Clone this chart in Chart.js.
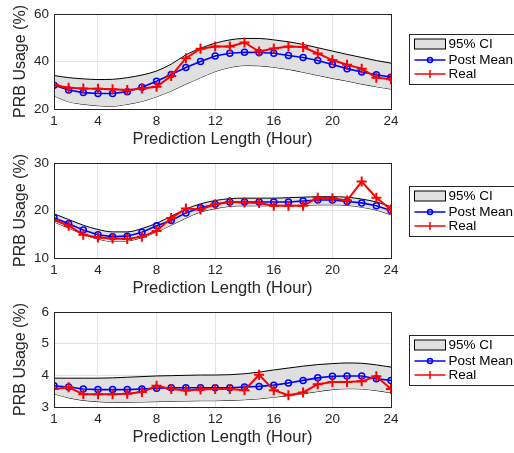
<!DOCTYPE html>
<html>
<head>
<meta charset="utf-8">
<script src="https://cdn.jsdelivr.net/npm/chart.js@4.4.1/dist/chart.umd.min.js"></script>
<style>
  html, body { margin: 0; padding: 0; background: #fff; overflow: hidden; }
  .panel { position: absolute; left: 0; width: 514px; height: 149px; overflow: hidden; }
</style>
</head>
<body>
<div class="panel" style="top:0px"><canvas id="chart1" width="560" height="149"></canvas></div>
<div class="panel" style="top:149px"><canvas id="chart2" width="560" height="149"></canvas></div>
<div class="panel" style="top:298px"><canvas id="chart3" width="560" height="149"></canvas></div>
<script>
// Prediction hours
const hours = [1,2,3,4,5,6,7,8,9,10,11,12,13,14,15,16,17,18,19,20,21,22,23,24];
const xTicks = [1, 4, 8, 12, 16, 20, 24];

// Panel 1
const mean1  = [30.0,28.0,26.9,26.5,26.5,27.3,29.2,31.7,34.5,37.5,40.0,42.3,43.5,43.9,43.8,43.5,42.5,41.7,40.4,38.7,37.0,35.6,34.4,33.4];
const real1  = [30.1,29.0,28.6,28.5,28.3,28.0,28.6,29.4,33.9,41.4,45.4,46.3,46.3,48.0,44.2,45.5,46.3,46.1,43.4,40.6,38.6,37.0,33.2,32.5];
const upper1 = [34.1,33.2,32.7,32.4,32.5,33.2,34.3,36.0,38.9,42.8,45.6,47.7,49.1,49.7,49.7,49.1,48.3,47.2,45.8,44.4,43.0,41.7,40.4,39.3];
const lower1 = [25.5,23.1,22.0,21.4,21.2,22.0,23.2,25.2,27.6,30.5,33.2,35.8,37.5,38.3,38.2,37.6,36.7,35.5,34.2,32.9,31.8,30.5,29.4,28.4];

// Panel 2
const mean2  = [18.5,17.2,15.9,14.9,14.5,14.6,15.4,16.8,17.9,19.5,20.6,21.3,21.8,21.8,21.8,21.8,21.8,22.0,22.2,22.2,21.9,21.6,21.0,20.0];
const real2  = [18.0,16.8,14.9,14.3,14.1,14.0,14.5,15.7,18.4,20.4,20.2,21.3,21.8,21.7,21.6,21.0,21.0,21.0,22.7,22.6,22.1,26.1,22.7,20.2];
const upper2 = [19.3,18.1,16.9,16.0,15.5,15.5,16.2,17.3,18.8,20.3,21.4,22.1,22.5,22.6,22.6,22.6,22.7,22.8,22.9,22.9,22.8,22.4,21.8,20.8];
const lower2 = [17.6,16.3,15.0,14.0,13.5,13.6,14.3,15.5,16.9,18.4,19.7,20.4,20.9,21.0,21.0,21.0,21.1,21.1,21.2,21.2,21.1,20.7,20.1,19.1];

// Panel 3
const mean3  = [3.67,3.63,3.57,3.55,3.55,3.55,3.57,3.59,3.61,3.61,3.61,3.61,3.61,3.63,3.65,3.69,3.76,3.84,3.92,3.97,3.98,3.98,3.89,3.84];
const real3  = [3.57,3.62,3.40,3.40,3.40,3.42,3.47,3.67,3.57,3.52,3.55,3.57,3.57,3.53,4.02,3.53,3.37,3.46,3.72,3.79,3.79,3.81,3.97,3.57];
const upper3 = [3.91,3.91,3.91,3.91,3.92,3.94,3.96,3.98,3.99,4.00,4.01,4.01,4.02,4.05,4.10,4.17,4.23,4.29,4.34,4.37,4.39,4.38,4.33,4.26];
const lower3 = [3.42,3.29,3.21,3.17,3.15,3.15,3.16,3.17,3.18,3.19,3.20,3.20,3.21,3.23,3.26,3.31,3.36,3.42,3.49,3.55,3.58,3.57,3.52,3.45];

const TEXT = '#262626';
const GRID = '#e3e3e3';
const BAND = '#e0e0e0';
const FONT = 'Liberation Sans, Arial, sans-serif';

function pts(arr) {
    return arr.map((v, i) => ({ x: hours[i], y: v }));
}

// box around plot area + MATLAB-style legend at right (runs off the figure edge)
const boxLegendPlugin = {
    id: 'boxLegend',
    afterDraw(chart) {
        const ctx = chart.ctx;
        const a = chart.chartArea;
        ctx.save();
        ctx.strokeStyle = TEXT;
        ctx.lineWidth = 1;
        ctx.strokeRect(Math.round(a.left) + 0.5, Math.round(a.top) + 0.5,
                       Math.round(a.right - a.left), Math.round(a.bottom - a.top));

        // legend box
        const shift = chart.options.plugins.boxLegend.shift || 0;
        const lx = a.right + 18.5;
        const ly = Math.round((a.top + a.bottom) / 2 - 25 + shift) + 0.5;
        ctx.fillStyle = '#fff';
        ctx.fillRect(lx, ly, 140, 50);
        ctx.strokeStyle = TEXT;
        ctx.strokeRect(lx, ly, 140, 50);

        const ix0 = lx + 5, ix1 = lx + 36, icx = (ix0 + ix1) / 2;
        const rows = [ly + 9.5, ly + 25.5, ly + 39.5];

        // 95% CI patch
        ctx.fillStyle = BAND;
        ctx.fillRect(ix0, rows[0] - 5, ix1 - ix0, 10);
        ctx.strokeStyle = '#000';
        ctx.strokeRect(ix0, rows[0] - 5, ix1 - ix0, 10);

        // Post Mean
        ctx.strokeStyle = '#0000ff';
        ctx.lineWidth = 1.5;
        ctx.beginPath();
        ctx.moveTo(ix0, rows[1]); ctx.lineTo(ix1, rows[1]);
        ctx.stroke();
        ctx.beginPath();
        ctx.arc(icx, rows[1], 2.5, 0, Math.PI * 2);
        ctx.stroke();

        // Real
        ctx.strokeStyle = '#ff0000';
        ctx.beginPath();
        ctx.moveTo(ix0, rows[2]); ctx.lineTo(ix1, rows[2]);
        ctx.moveTo(icx, rows[2] - 4); ctx.lineTo(icx, rows[2] + 4);
        ctx.stroke();

        ctx.fillStyle = '#000';
        ctx.font = '13.5px ' + FONT;
        ctx.textBaseline = 'middle';
        ctx.textAlign = 'left';
        const labels = chart.options.plugins.boxLegend.labels;
        labels.forEach((t, i) => ctx.fillText(t, ix1 + 3, rows[i] + 0.5));
        ctx.restore();
    }
};

function makeChart(id, mean, real, upper, lower, yMin, yMax, yStep, shift) {
    return new Chart(document.getElementById(id), {
        type: 'line',
        data: {
            datasets: [
                {
                    label: 'Real',
                    data: pts(real),
                    borderColor: '#ff0000',
                    borderWidth: 2,
                    pointStyle: 'cross',
                    pointRadius: 5,
                    pointBorderColor: '#ff0000',
                    pointBorderWidth: 2,
                    tension: 0,
                    order: 0
                },
                {
                    label: 'Post Mean',
                    data: pts(mean),
                    borderColor: '#0000ff',
                    borderWidth: 1.6,
                    pointStyle: 'circle',
                    pointRadius: 3,
                    pointBorderColor: '#0000ff',
                    pointBackgroundColor: 'rgba(0,0,0,0)',
                    pointBorderWidth: 1.5,
                    tension: 0,
                    order: 1
                },
                {
                    label: '95% CI',
                    data: pts(upper),
                    borderColor: '#000',
                    borderWidth: 1,
                    backgroundColor: BAND,
                    fill: { target: 3 },
                    pointRadius: 0,
                    cubicInterpolationMode: 'monotone',
                    order: 2
                },
                {
                    label: '95% CI lower',
                    data: pts(lower),
                    borderColor: '#000',
                    borderWidth: 1,
                    pointRadius: 0,
                    fill: false,
                    cubicInterpolationMode: 'monotone',
                    order: 2
                }
            ]
        },
        options: {
            responsive: false,
            animation: false,
            events: [],
            layout: { padding: { top: 14, right: 169, left: 0, bottom: 0 } },
            scales: {
                x: {
                    type: 'linear',
                    min: 1,
                    max: 24,
                    afterBuildTicks(scale) { scale.ticks = xTicks.map(v => ({ value: v })); },
                    afterFit(scale) { scale.height = 40; },
                    grid: { color: GRID, drawTicks: false },
                    border: { color: TEXT },
                    ticks: { color: TEXT, padding: 4, maxRotation: 0, autoSkip: false,
                             font: { family: FONT, size: 13.5 } },
                    title: { display: true, text: 'Prediction Length (Hour)', color: TEXT,
                             font: { family: FONT, size: 16.5, lineHeight: 1.1 },
                             padding: { top: 0, bottom: 0 } }
                },
                y: {
                    min: yMin,
                    max: yMax,
                    afterFit(scale) { scale.width = 54; },
                    grid: { color: GRID, drawTicks: false },
                    border: { color: TEXT },
                    ticks: { stepSize: yStep, color: TEXT, padding: 5,
                             font: { family: FONT, size: 13.5 } },
                    title: { display: true, text: 'PRB Usage (%)', color: TEXT,
                             font: { family: FONT, size: 16 },
                             padding: { top: 11, bottom: 0 } }
                }
            },
            plugins: {
                legend: { display: false },
                tooltip: { enabled: false },
                boxLegend: { labels: ['95% CI', 'Post Mean', 'Real'], shift: shift }
            }
        },
        plugins: [boxLegendPlugin]
    });
}

makeChart('chart1', mean1, real1, upper1, lower1, 20, 60, 20, -3);
makeChart('chart2', mean2, real2, upper2, lower2, 10, 30, 10, 0);
makeChart('chart3', mean3, real3, upper3, lower3, 3, 6, 1, 0);
</script>
</body>
</html>
